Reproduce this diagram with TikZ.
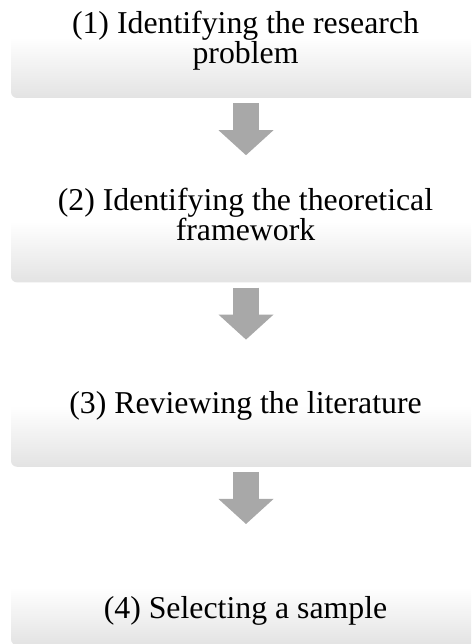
\documentclass[tikz,border=0pt]{standalone}
\usepackage{fontspec}
\setmainfont{Liberation Serif}
\usetikzlibrary{positioning,arrows.meta}

\begin{document}
\begin{tikzpicture}[x=1pt,y=1pt,
  stepbox/.style={rectangle,rounded corners=6pt,minimum width=470pt,minimum height=122pt,inner sep=0pt,
    top color=white,bottom color=black!11,middle color=white},
  steptext/.style={align=center,inner sep=0pt,font=\fontsize{31.8}{30}\selectfont},
  flowarrow/.style={draw=black!34,line width=26pt,shorten <=5pt,shorten >=5pt,
    -{Triangle[length=25pt,width=55pt,line width=0pt]}}]
\clip (0,0) rectangle (471,644);

% Step boxes
\node[stepbox] (S1) at (246,607) {};
\node[stepbox,below=62pt of S1] (S2) {};
\node[stepbox,below=62pt of S2] (S3) {};
\node[stepbox,below=62pt of S3,minimum height=116pt] (S4) {};

% Step texts
\node[steptext] (L1) at ([xshift=-0.5pt,yshift=-4pt]S1.center) {(1) Identifying the research\\problem};
\node[steptext] (L2) at ([xshift=-0.5pt,yshift=7pt]S2.center) {(2) Identifying the theoretical\\framework};
\node[steptext] (L3) at ([xshift=-0.5pt,yshift=-0.5pt]S3.center) {(3) Reviewing the literature};
\node[steptext] (L4) at ([xshift=-0.5pt,yshift=-23.5pt]S4.center) {(4) Selecting a sample};

% Block arrows
\draw[flowarrow] (S1) -- (S2);
\draw[flowarrow] (S2) -- (S3);
\draw[flowarrow] (S3) -- (S4);

\end{tikzpicture}
\end{document}
